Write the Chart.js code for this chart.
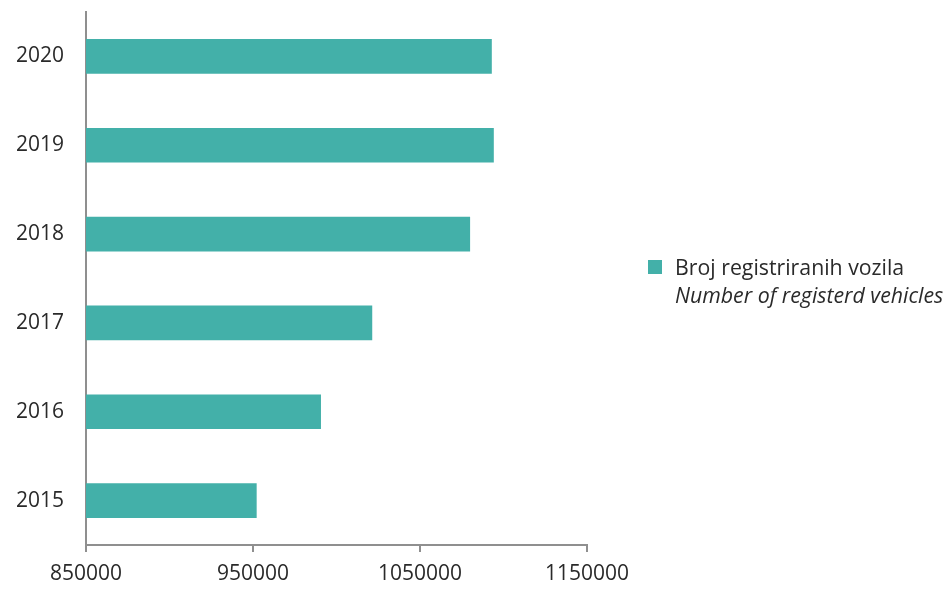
<!DOCTYPE html>
<html>
<head>
<meta charset="utf-8">
<script src="https://cdn.jsdelivr.net/npm/chart.js@4/dist/chart.umd.min.js"></script>
<style>
  html, body { margin: 0; padding: 0; background: #ffffff; }
  #wrap { position: relative; width: 951px; height: 589px; }
  #legend { position: absolute; left: 648px; top: 253px; font-family: "Open Sans", sans-serif; font-size: 21.3px; font-weight: 400; color: #2a2a2a; line-height: 28px; }
  #legend .sw { position: absolute; left: 0; top: 7px; width: 14px; height: 14px; background: #43b0a9; }
  #legend .t { margin-left: 27px; white-space: nowrap; }
  #legend .t i { font-style: italic; }
</style>
</head>
<body>
<div id="wrap">
  <canvas id="c" width="951" height="589"></canvas>
  <div id="legend"><span class="sw"></span><div class="t">Broj registriranih vozila<br><i>Number of registerd vehicles</i></div></div>
</div>
<script>
const categories = ["2020", "2019", "2018", "2017", "2016", "2015"];
const vehicles = [1093000, 1094200, 1080000, 1021400, 990700, 952200];
const xTicks = [850000, 950000, 1050000, 1150000];
const seriesLabel = "Broj registriranih vozila / Number of registerd vehicles";

const axisColor = "#8f8f8f";
const textColor = "#2a2a2a";
const fontFam = "'Open Sans', sans-serif";

new Chart(document.getElementById("c"), {
  type: "bar",
  data: {
    labels: categories,
    datasets: [{
      label: seriesLabel,
      data: vehicles,
      backgroundColor: "#43b0a9",
      borderWidth: 0,
      barPercentage: 0.39,
      categoryPercentage: 1.0
    }]
  },
  options: {
    indexAxis: "y",
    responsive: false,
    animation: false,
    devicePixelRatio: 1,
    layout: { padding: { top: 12, right: 364, left: 0, bottom: 0 } },
    plugins: { legend: { display: false }, tooltip: { enabled: false } },
    scales: {
      x: {
        type: "linear",
        min: 850000,
        max: 1150000,
        afterBuildTicks: (s) => { s.ticks = xTicks.map(v => ({ value: v })); },
        afterFit: (s) => { s.height = 44; },
        grid: { drawOnChartArea: false, drawTicks: true, tickLength: 7, color: axisColor, lineWidth: 2 },
        border: { display: true, color: axisColor, width: 2 },
        ticks: { color: textColor, font: { family: fontFam, size: 21 }, padding: 9, maxRotation: 0, autoSkip: false,
                 callback: (v) => String(v) }
      },
      y: {
        afterFit: (s) => { s.width = 86; s.paddingTop = 0; s.paddingBottom = 0; },
        grid: { drawOnChartArea: false, drawTicks: false },
        border: { display: true, color: axisColor, width: 2 },
        ticks: { color: textColor, font: { family: fontFam, size: 21 }, padding: 22 }
      }
    }
  }
});
</script>
</body>
</html>
